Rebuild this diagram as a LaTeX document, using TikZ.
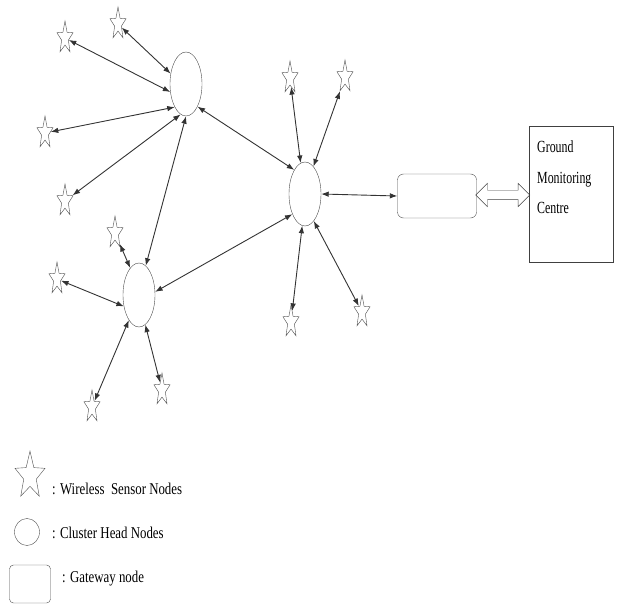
\documentclass[tikz,border=0pt]{standalone}
\usepackage{fontspec}
\setmainfont{Liberation Serif}
\newfontfamily\keyfont[FakeStretch=0.78]{Liberation Serif}
\newfontfamily\boxfont[FakeStretch=0.7]{Liberation Serif}
\usepackage{tikz}
\usetikzlibrary{arrows.meta, shapes.geometric, shapes.arrows}

\tikzset{
	sensor/.style = {star, star points=5, star point ratio=2.4, draw=black!70, fill=white, minimum size=17pt, inner sep=0pt, yscale=2, transform shape},
	head/.style = {ellipse, draw=black!70, minimum width=32pt, minimum height=64pt, inner sep=0pt},
	link/.style = {draw=black!80, line width=0.9pt, {Latex[length=7.5pt,width=5.5pt]}-{Latex[length=7.5pt,width=5.5pt]}},
	keytext/.style = {anchor=base west, inner sep=0pt, font=\keyfont\fontsize{16.5}{18}\selectfont},
}

\begin{document}
\begin{tikzpicture}[x=1pt, y=-1pt]
		\useasboundingbox (0,0) rectangle (618,604);
		
		\node[head] (ch1) at (186,84) {};
		\node[head] (ch2) at (305,194) {};
		\node[head] (ch3) at (139,295) {};
		
		\node[sensor] (s1) at (65,38) {};
		\node[sensor] (s2) at (118,24) {};
		\node[sensor] (s3) at (45,133) {};
		\node[sensor] (s4) at (65,201) {};
		\node[sensor] (s5) at (290,78) {};
		\node[sensor] (s6) at (345,77) {};
		\node[sensor] (s7) at (291,322) {};
		\node[sensor] (s8) at (362,312) {};
		\node[sensor] (s9) at (115,233) {};
		\node[sensor] (s10) at (57,279) {};
		\node[sensor] (s11) at (92,407) {};
		\node[sensor] (s12) at (162,390) {};
		
		\node[draw=black!70, rounded corners=6pt, minimum width=79pt, minimum height=44pt] (gw) at (437,196) {};
		\node[draw=black!75, minimum width=84pt, minimum height=136pt] (gmc) at (571,194) {};
		\node[anchor=base west, align=left, inner sep=0pt, font=\boxfont\fontsize{17}{30}\selectfont] (gmctext) at (537,213) {Ground\\Monitoring\\Centre};
		
		\draw[link] (s1) -- (ch1.207);
		\draw[link] (s2) -- (ch1.146);
		\draw[link] (s3) -- (ch1.244);
		\draw[link] (s4) -- (ch1.260);
		\draw[link] (s5) -- (ch2.98);
		\draw[link] (s6) -- (ch2.73);
		\draw[link] (s7) -- (ch2.265);
		\draw[link] (s8) -- (ch2.288);
		\draw[link] (s9) -- (ch3.108);
		\draw[link] (s10) -- (ch3.217);
		\draw[link] (s11) -- (ch3.248);
		\draw[link] (s12) -- (ch3.282);
		
		\draw[link] (ch1.270) -- (ch3.77);
		\draw[link] (ch1.297) -- (ch2.114);
		\draw[link] (ch3.11) -- (ch2.238);
		\draw[link] (ch2.0) -- (gw.west);
		
		\path (gw.east) -- (gmc.west) node[midway, double arrow, draw=black!75, inner sep=4.5pt, double arrow head extend=7pt, minimum height=54pt] (uplink) {};
		
		\node[star, star points=5, star point ratio=2.4, draw=black!70, minimum size=31.5pt, inner sep=0pt, yscale=1.58, transform shape] (kstar) at (30,476) {};
		\node[keytext] (kstartext) at (52,494) {: Wireless\ \ Sensor Nodes};
		\node[ellipse, draw=black!70, minimum width=25pt, minimum height=27pt, inner sep=0pt] (khead) at (27,532) {};
		\node[keytext] (kheadtext) at (52,538) {: Cluster Head Nodes};
		\node[draw=black!70, rounded corners=4pt, minimum width=41pt, minimum height=38pt] (kgw) at (30,584) {};
		\node[keytext] (kgwtext) at (62,582) {: Gateway node};
\end{tikzpicture}
\end{document}
